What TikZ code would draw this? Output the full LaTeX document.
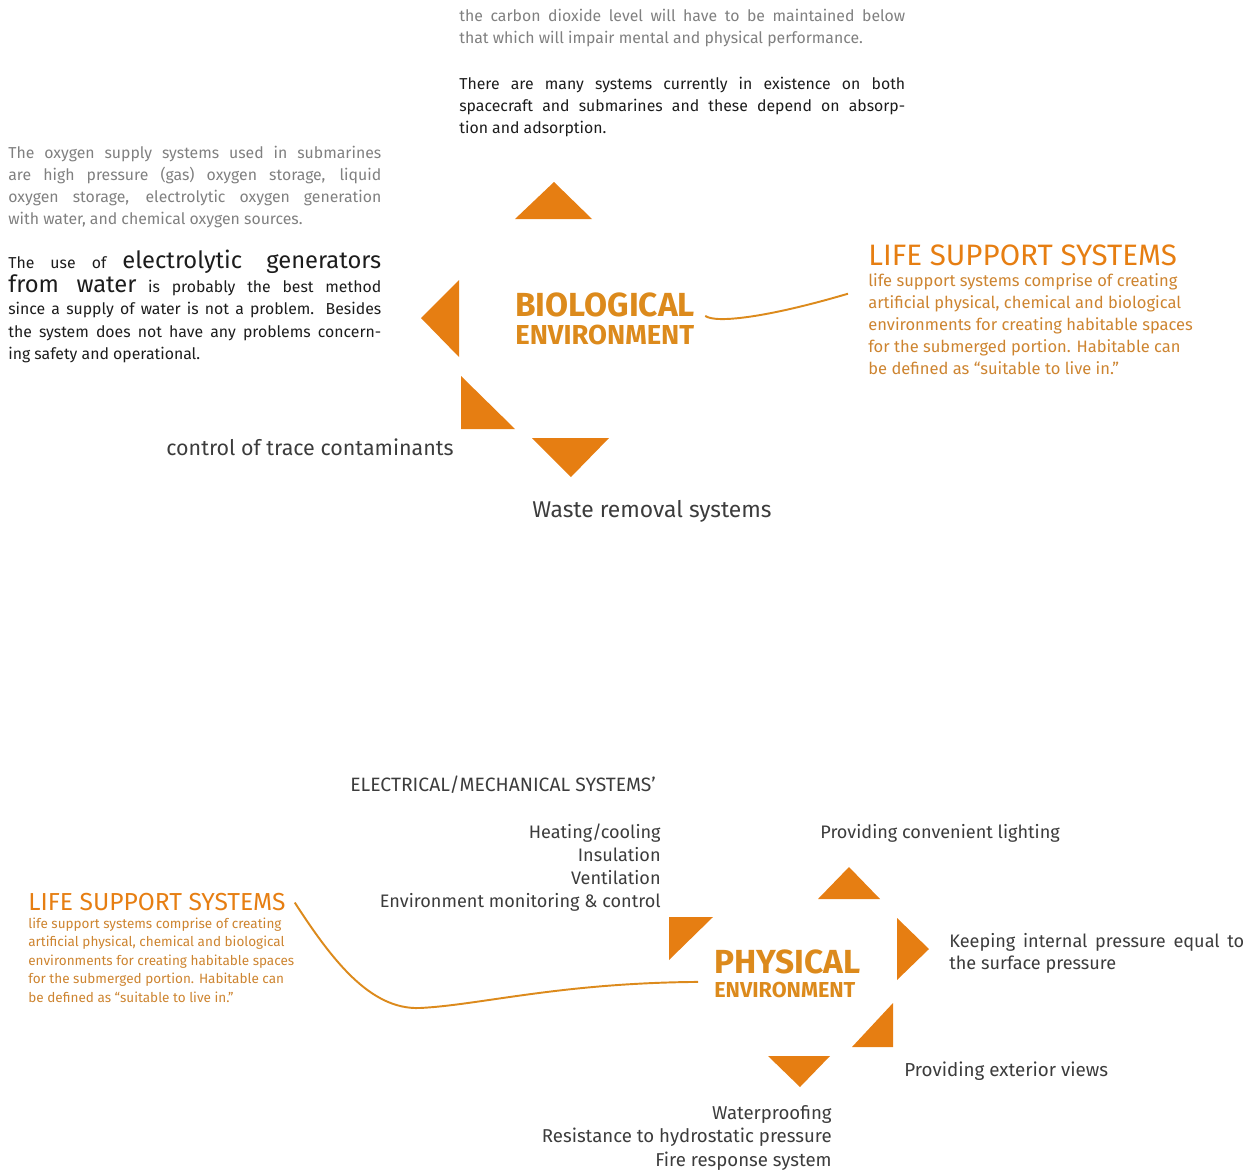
\documentclass[tikz,border=0pt]{standalone}
\usepackage{fontspec}
\setmainfont{Fira Sans}
\usepackage{xcolor}
\usetikzlibrary{positioning,calc}

\definecolor{triorange}{RGB}{230,126,18}
\definecolor{headorange}{RGB}{220,138,28}
\definecolor{bodyorange}{RGB}{205,132,48}
\definecolor{greytext}{RGB}{128,128,128}
\definecolor{darktext}{RGB}{28,28,28}
\definecolor{itemgrey}{RGB}{60,60,60}
\lineskiplimit-20pt

\begin{document}
\begin{tikzpicture}[x=0.02cm,y=-0.02cm,
	txt/.style={inner sep=0pt,anchor=base west},
	para/.style={txt,align=justify,font={\fontsize{9}{12.7}\selectfont}},
	greytxt/.style={text=greytext},
	darktxt/.style={text=darktext},
	itemtext/.style={txt,text=itemgrey,font={\fontsize{10.3}{13}\selectfont}},
	bigitem/.style={txt,text=itemgrey,font={\fontsize{12.2}{14}\selectfont}},
	envhead/.style={txt,text=headorange,font={\bfseries\fontsize{19}{20}\selectfont}},
	subhead/.style={txt,text=headorange,font={\bfseries\fontsize{15.6}{16}\selectfont}},
	lifehead/.style={txt,text=triorange,font={\fontsize{16.8}{18}\selectfont}},
	lifetext/.style={txt,align=left,text=bodyorange,font={\fontsize{9.4}{12.4}\selectfont}},
	tri/.style={fill=triorange},
	link/.style={draw=headorange,line width=1.1pt}]
	\useasboundingbox (0,0) rectangle (1255,1170);

	\node[para,greytxt,text width=8.92cm](co2) at (459,21) {the carbon dioxide level will have to be maintained below\linebreak that which will impair mental and physical performance.};
	\node[para,darktxt,text width=8.92cm](systems) at (459,89) {There are many systems currently in existence on both\linebreak spacecraft and submarines and these depend on absorp-\linebreak tion and adsorption.};
	\node[para,greytxt,text width=7.46cm](oxygen) at (8,158) {The oxygen supply systems used in submarines\linebreak are high pressure (gas) oxygen storage, liquid\linebreak oxygen storage, electrolytic oxygen generation\linebreak with water, and chemical oxygen sources.};
	\node[para,darktxt,text width=7.46cm](electro) at (8,268) {The use of {\fontsize{13.5}{12.7}\selectfont electrolytic generators}\linebreak {\fontsize{13.5}{12.7}\selectfont from water} is probably the best method\linebreak since a supply of water is not a problem. Besides\linebreak the system does not have any problems concern-\linebreak ing safety and operational.};

	\node[envhead](bio) at (515,316) {BIOLOGICAL};
	\node[subhead](bioenv) at (515,344) {ENVIRONMENT};
	\node[lifehead](lifeA) at (868,265) {LIFE SUPPORT SYSTEMS};
	\node[lifetext](lifeAtext) at (868,374) {life support systems comprise of creating\\artificial physical, chemical and biological\\environments for creating habitable spaces\\for the submerged portion. Habitable can\\be defined as ``suitable to live in.''};
	\node[bigitem](trace) at (166,455) {control of trace contaminants};
	\node[bigitem,font={\fontsize{13}{14}\selectfont}](waste) at (532,517) {Waste removal systems};

	\fill[tri] (515,219) -- (592,219) -- (554,182) -- cycle;
	\fill[tri] (421,318) -- (459,280) -- (459,357) -- cycle;
	\fill[tri] (461,376) -- (461,429) -- (515,429) -- cycle;
	\fill[tri] (532,438) -- (609,438) -- (571,477) -- cycle;
	\draw[link] ($(bio.south east)+(10,-1)$) .. controls +(11,8) and +(-78,23) .. ($(lifeA.south west)+(-20,28)$);

	\node[itemtext,font={\fontsize{11}{13}\selectfont}](elec) at (350,791) {ELECTRICAL/MECHANICAL SYSTEMS'};
	\node[itemtext,anchor=base east,align=right](hvac) at (661,907) {Heating/cooling\\Insulation\\Ventilation\\Environment monitoring \& control};
	\node[itemtext](lighting) at (820,838) {Providing convenient lighting};
	\node[envhead](phy) at (714,973) {PHYSICAL};
	\node[envhead,font={\bfseries\fontsize{12.3}{13}\selectfont}](phyenv) at (714,997) {ENVIRONMENT};
	\node[itemtext,align=justify,text width=5.9cm](pressure) at (949,947) {Keeping internal pressure equal to\linebreak the surface pressure};
	\node[itemtext,font={\fontsize{10.7}{13}\selectfont}](views) at (904,1076) {Providing exterior views};
	\node[itemtext,anchor=base east,align=right,font={\fontsize{10.6}{13.2}\selectfont}](hull) at (832,1166) {Waterproofing\\Resistance to hydrostatic pressure\\Fire response system};
	\node[lifehead,font={\fontsize{14}{15}\selectfont}](lifeB) at (28,910) {LIFE SUPPORT SYSTEMS};
	\node[lifetext,font={\fontsize{7.7}{10.5}\selectfont}](lifeBtext) at (28,1002) {life support systems comprise of creating\\artificial physical, chemical and biological\\environments for creating habitable spaces\\for the submerged portion. Habitable can\\be defined as ``suitable to live in.''};

	\fill[tri] (818,899) -- (880,899) -- (849,867) -- cycle;
	\fill[tri] (669,917) -- (713,917) -- (669,960) -- cycle;
	\fill[tri] (897,918) -- (897,980) -- (929,949) -- cycle;
	\fill[tri] (893,1003) -- (893,1047) -- (852,1047) -- cycle;
	\fill[tri] (768,1056) -- (830,1056) -- (800,1087) -- cycle;
	\coordinate (dip) at (420,1008);
	\draw[link] ($(lifeB.east)+(9,1)$) .. controls +(37,57) and +(-50,2) .. (dip) .. controls +(60,-3) and +(-138,1) .. ($(phy.south west)+(-16,8)$);
\end{tikzpicture}
\end{document}
